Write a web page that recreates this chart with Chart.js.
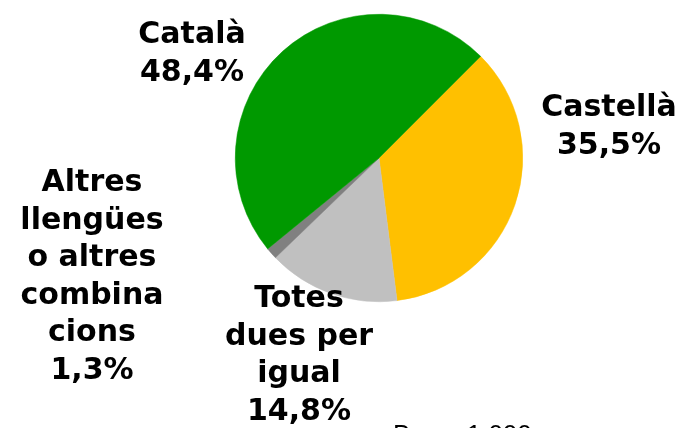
<!DOCTYPE html>
<html>
<head>
<meta charset="utf-8">
<title>Llengua</title>
<script src="https://cdn.jsdelivr.net/npm/chart.js@4/dist/chart.umd.min.js"></script>
<style>
  html, body { margin: 0; padding: 0; background: #fff; }
  canvas { display: block; }
</style>
</head>
<body>
<canvas id="llengua-chart" width="684" height="428"></canvas>
<script>
// Slices in clockwise order, starting from the upper right
const categories = ['Castellà', 'Totes dues per igual', 'Altres llengües o altres combinacions', 'Català'];
const labelLines = [
    ['Castellà'],
    ['Totes', 'dues per', 'igual'],
    ['Altres', 'llengües', 'o altres', 'combina', 'cions'],
    ['Català']
];
const percentages = [35.5, 14.8, 1.3, 48.4];
const sliceColors = ['#FFC000', '#C0C0C0', '#808080', '#009900'];

// Where each label block sits, relative to the pie centre (first baseline)
const labelOffsets = [[230, -42], [-80, 149], [-287, 33], [-187, -115]];
const baseText = 'Base: 1.000';

function formatPct(v) {
    return v.toFixed(1).replace('.', ',') + '%';
}

const labelPlugin = {
    id: 'sliceLabels',
    afterDraw(chart) {
        const ctx = chart.ctx;
        const arcs = chart.getDatasetMeta(0).data;
        ctx.save();
        ctx.fillStyle = '#000';
        ctx.font = 'bold 30px "DejaVu Sans"';
        ctx.textAlign = 'center';
        ctx.textBaseline = 'alphabetic';
        arcs.forEach((arc, i) => {
            const lines = labelLines[i].concat([formatPct(percentages[i])]);
            const x = arc.x + labelOffsets[i][0];
            let y = arc.y + labelOffsets[i][1];
            lines.forEach(line => {
                ctx.fillText(line, x, y);
                y += 37.6;
            });
        });
        // sample size note, mostly below the bottom edge
        ctx.font = '26px "Liberation Sans"';
        ctx.textAlign = 'left';
        ctx.fillText(baseText, 393, 443);
        ctx.restore();
    }
};

new Chart(document.getElementById('llengua-chart'), {
    type: 'pie',
    data: {
        labels: categories,
        datasets: [{
            data: percentages,
            backgroundColor: sliceColors,
            borderColor: sliceColors,
            borderWidth: 0.5
        }]
    },
    options: {
        responsive: false,
        animation: false,
        rotation: 45,
        layout: {
            padding: { left: 235, right: 161, top: 14, bottom: 126 }
        },
        plugins: {
            legend: { display: false },
            tooltip: { enabled: false }
        }
    },
    plugins: [labelPlugin]
});
</script>
</body>
</html>
